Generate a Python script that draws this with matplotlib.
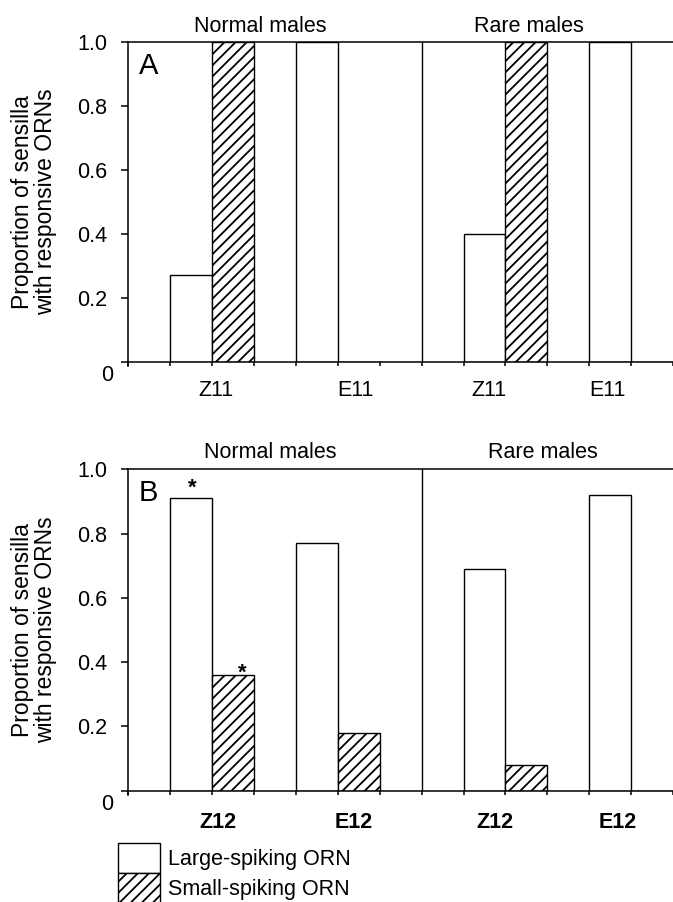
#!/usr/bin/env python

import matplotlib
matplotlib.use('Agg')
import matplotlib.pyplot as plt
from matplotlib.patches import Patch

plt.rcParams['font.family'] = ['Liberation Sans', 'DejaVu Sans']
plt.rcParams['hatch.linewidth'] = 1.3

# ------------------------------------------------------------------------------
# Data (proportion of sensilla), indexed [group][compound]
#
groups = ['Normal males', 'Rare males']
series = ['Large-spiking ORN', 'Small-spiking ORN']

cats_a = ['Z11', 'E11']
large_a = [[0.27, 1.0], [0.40, 1.0]]
small_a = [[1.0, 0.0], [1.0, 0.0]]

cats_b = ['Z12', 'E12']
large_b = [[0.91, 0.77], [0.69, 0.92]]
small_b = [[0.36, 0.18], [0.08, 0.0]]
# significant differences (group, compound, series)
stars_b = [(0, 0, 0), (0, 0, 1)]

yticks = [0, 0.2, 0.4, 0.6, 0.8, 1.0]

# ------------------------------------------------------------------------------
# Layout
#
fs = 15.5
lw = 1.1
slots_per_group = 7


def slot(g, c, s):
    return g * slots_per_group + 1 + c * 3 + s


def draw_panel(ax, cats, large, small, letter, label_pos, title_pos,
               title_pad, label_pad, bold, stars):
    for g in range(len(groups)):
        for c in range(len(cats)):
            ax.bar(slot(g, c, 0) + 0.5, large[g][c], width=1.0,
                   facecolor='white', edgecolor='black', linewidth=1.0,
                   zorder=2)
            ax.bar(slot(g, c, 1) + 0.5, small[g][c], width=1.0,
                   facecolor='white', edgecolor='black', hatch='///',
                   linewidth=1.0, zorder=2)
    # separator between the two groups
    ax.axvline(slots_per_group, 0, 1, color='black', linewidth=1.0, zorder=3)

    ax.set_xlim(0, 2 * slots_per_group - 1)
    ax.set_ylim(0, 1.0)
    ax.set_xticks(range(0, 2 * slots_per_group))
    ax.set_xticklabels([])
    ax.set_xticks(label_pos, cats * len(groups), minor=True,
                  fontweight='bold' if bold else 'normal')
    ax.tick_params(axis='x', which='major', direction='out', length=3.2,
                   width=lw)
    ax.tick_params(axis='x', which='minor', length=0, pad=label_pad,
                   labelsize=fs)
    ax.set_yticks(yticks, [''] + ['%.1f' % v for v in yticks[1:]])
    ax.tick_params(axis='y', direction='out', length=4.8, width=lw,
                   pad=10.5, labelsize=fs)
    ax.annotate('0', xy=(0, 0), xycoords=('axes fraction', 'data'),
                xytext=(-11, -9.6), textcoords='offset points',
                ha='right', va='center', fontsize=fs)

    ax.spines['right'].set_visible(False)
    for side in ['left', 'bottom', 'top']:
        ax.spines[side].set_linewidth(lw)
    ax.spines['left'].set_bounds(-0.014, 1.0)

    ax.text(0.0196, 0.898 if letter == 'A' else 0.901, letter,
            transform=ax.transAxes, fontsize=21, va='baseline')

    for g, name in enumerate(groups):
        ax.annotate(name, xy=(title_pos[g], 1.0),
                    xycoords=('data', 'axes fraction'),
                    xytext=(0, title_pad), textcoords='offset points',
                    ha='center', va='baseline', fontsize=fs)

    for g, c, s in stars:
        top = large[g][c] if s == 0 else small[g][c]
        dx = 1 if s == 0 else 7
        dy = 3 if s == 0 else -3
        ax.annotate('*', xy=(slot(g, c, s) + 0.5, top), xytext=(dx, dy),
                    textcoords='offset points', ha='center', va='baseline',
                    fontsize=16, fontweight='bold')


fig = plt.figure(figsize=(6.73, 9.02), dpi=100)
left = 128.3 / 673
width = 1 - left
ax_a = fig.add_axes([left, 1 - 361.7 / 902, width, 320 / 902])
ax_b = fig.add_axes([left, 1 - 790.7 / 902, width, 321.4 / 902])

draw_panel(ax_a, cats_a, large_a, small_a, 'A',
           [2.08, 5.42, 8.6, 11.44], [3.14, 9.56], 7.0, 13.5, False, [])
draw_panel(ax_b, cats_b, large_b, small_b, 'B',
           [2.15, 5.39, 8.76, 11.67], [3.38, 9.9], 8.1, 15.0, True, stars_b)

ylabel = 'Proportion of sensilla\nwith responsive ORNs'
for yc in [1 - 201.7 / 902, 1 - 630 / 902]:
    fig.text(34 / 673, yc, ylabel, rotation=90, ha='center', va='center',
             fontsize=16.5, linespacing=1.0, multialignment='center')

# legend under panel B
handles = [Patch(facecolor='white', edgecolor='black', linewidth=1.0),
           Patch(facecolor='white', edgecolor='black', hatch='///',
                 linewidth=1.0)]
fig.legend(handles, series, loc='upper left',
           bbox_to_anchor=(118 / 673, 1 - 842.7 / 902), frameon=False,
           fontsize=fs, handlelength=41.7 / 21.5, handleheight=1.77,
           labelspacing=0, handletextpad=0.4, borderpad=0, borderaxespad=0)

fig.savefig('out.png', dpi=100)
